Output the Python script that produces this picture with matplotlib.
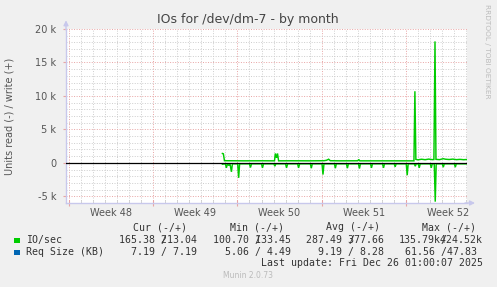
import matplotlib
matplotlib.use("Agg")
import matplotlib.pyplot as plt
from matplotlib.ticker import MultipleLocator, FixedLocator, NullFormatter
from matplotlib.transforms import blended_transform_factory

# ---------------- data ----------------
TITLE = "IOs for /dev/dm-7 - by month"
Y_LABEL = "Units read (-) / write (+)"
week_labels = ["Week 48", "Week 49", "Week 50", "Week 51", "Week 52"]
week_starts = [0, 7, 14, 21, 28]          # days since Mon 24 Nov 2025 00:00
y_ticks = [-5000, 0, 5000, 10000, 15000, 20000]
y_tick_labels = ["-5 k", "0", "5 k", "10 k", "15 k", "20 k"]

# write IO/s (drawn positive)
write_t = [12.75, 12.83, 12.92, 14.5, 16.0, 17.08, 17.15, 17.25, 17.33, 17.42,
           18.5, 20.0, 21.2, 21.4, 21.58, 21.72, 22.5, 24.0, 24.08, 24.17,
           26.0, 28.67, 28.75, 28.83, 29.0, 29.3, 29.6, 29.9, 30.2, 30.33,
           30.42, 30.5, 30.8, 31.1, 31.3, 31.6, 31.9, 32.2, 32.5, 32.8, 33.08]
write_v = [1400, 1350, 320, 300, 310, 300, 1400, 750, 1400, 300,
           310, 300, 320, 380, 540, 320, 300, 310, 500, 300,
           300, 300, 10700, 520, 450, 540, 470, 560, 480, 500,
           18150, 520, 480, 620, 540, 500, 560, 480, 520, 470, 500]

# read IO/s (drawn negative)
read_t = [12.75, 13.0, 13.08, 13.17, 13.29, 13.38, 13.5, 13.58, 14.02, 14.1,
          14.18, 15.0, 15.08, 15.17, 16.0, 16.08, 16.17, 17.03, 17.11, 17.19,
          18.0, 18.08, 18.17, 19.0, 19.08, 19.17, 20.06, 20.14, 20.22, 21.03,
          21.11, 21.19, 22.06, 22.14, 22.22, 23.06, 23.14, 23.22, 24.06, 24.14,
          24.22, 25.06, 25.14, 25.22, 26.06, 26.14, 26.22, 27.03, 27.11, 27.19,
          28.03, 28.11, 28.19, 28.7, 28.78, 28.86, 29.03, 29.11, 29.19, 30.03,
          30.11, 30.19, 30.36, 30.44, 30.52, 31.03, 31.11, 31.19, 32.03, 32.11,
          32.19, 33.08]
read_v = [200, 150, 750, 150, 400, 150, 1340, 150, 150, 2240,
          150, 150, 700, 150, 150, 750, 150, 150, 500, 150,
          150, 750, 150, 150, 750, 150, 150, 800, 150, 150,
          1750, 150, 150, 800, 150, 150, 800, 150, 150, 850,
          150, 150, 750, 150, 150, 750, 150, 150, 600, 150,
          150, 1850, 150, 150, 500, 150, 150, 750, 150, 150,
          750, 150, 150, 5800, 150, 150, 650, 150, 150, 650,
          150, 150]

legend_names = ["IO/sec", "Req Size (KB)"]
legend_colors = ["#00cc00", "#0066b3"]
col_headers = ["Cur (-/+)", "Min (-/+)", "Avg (-/+)", "Max (-/+)"]
io_read = ["165.38", "100.70", "287.49", "135.79k"]
io_write = ["213.04", "133.45", "377.66", "424.52k"]
req_vals = ["7.19 / 7.19", "5.06 / 4.49", "9.19 / 8.28", "61.56 /47.83"]
LAST_UPDATE = "Last update: Fri Dec 26 01:00:07 2025"
FOOTER = "Munin 2.0.73"
SIDE = "RRDTOOL / TOBI OETIKER"

# ---------------- layout ----------------
W, H = 497, 287
BG = "#f0f0f0"
fig = plt.figure(figsize=(W / 100, H / 100), dpi=100, facecolor=BG)

def fx(px):
    return px / W

def fy(py):
    return 1 - py / H

ax_l, ax_r, ax_t, ax_b = 66, 467, 29, 203
ax = fig.add_axes([fx(ax_l), fy(ax_b), (ax_r - ax_l) / W, (ax_b - ax_t) / H])
ax.set_facecolor("white")
ax.set_xlim(-0.25, 33.08)
ax.set_ylim(-6000, 20000)

GREEN = legend_colors[0]
ax.plot(write_t, write_v, color=GREEN, lw=1.05, zorder=3, solid_joinstyle="miter")
ax.plot(read_t, [-v for v in read_v], color=GREEN, lw=1.05, zorder=3, solid_joinstyle="miter")
ax.axhline(0, color="black", lw=0.9, zorder=5)

# grid
MINOR_C = "#cdcdcd"
MAJOR_C = "#e8a4a4"
ax.yaxis.set_major_locator(FixedLocator(y_ticks))
ax.yaxis.set_minor_locator(MultipleLocator(1000))
ax.xaxis.set_major_locator(FixedLocator(week_starts))
ax.xaxis.set_minor_locator(MultipleLocator(1))
ax.grid(True, which="minor", color=MINOR_C, ls=(0, (1, 1.6)), lw=0.7, zorder=0)
ax.grid(True, which="major", color=MAJOR_C, ls=(0, (1, 1.6)), lw=0.7, zorder=1)
ax.set_axisbelow(True)

ax.set_yticklabels(y_tick_labels)
ax.xaxis.set_major_formatter(NullFormatter())
ax.tick_params(axis="y", which="major", direction="out", length=2, color=MAJOR_C,
               labelsize=7, labelcolor="#555555", pad=5)
ax.tick_params(axis="y", which="minor", length=0)
ax.tick_params(axis="x", which="major", direction="inout", length=4, color=MAJOR_C)
ax.tick_params(axis="x", which="minor", direction="in", length=2, color=MINOR_C)

for s in ("top", "right"):
    ax.spines[s].set_visible(False)
AXC = "#c8c8ec"
for s in ("left", "bottom"):
    ax.spines[s].set_color(AXC)
    ax.spines[s].set_linewidth(1.0)

ax.annotate("", xy=(0, 1.05), xytext=(0, 0.995), xycoords="axes fraction",
            arrowprops=dict(arrowstyle="-|>", color=AXC, lw=1.0, mutation_scale=7,
                            shrinkA=0, shrinkB=0), annotation_clip=False)
ax.annotate("", xy=(1.02, 0), xytext=(0.995, 0), xycoords="axes fraction",
            arrowprops=dict(arrowstyle="-|>", color=AXC, lw=1.0, mutation_scale=7,
                            shrinkA=0, shrinkB=0), annotation_clip=False)

# week labels between major lines
wk_tr = blended_transform_factory(ax.transData, fig.transFigure)
for ws, lab in zip(week_starts, week_labels):
    ax.text(ws + 3.5, fy(212.5), lab, transform=wk_tr,
            ha="center", va="center", fontsize=7, color="#555555")

# title, y label, side text
fig.text(fx(248), fy(20), TITLE, ha="center", va="center", fontsize=9, color="#444444")
fig.text(fx(10), fy(116), Y_LABEL, ha="center", va="center", rotation=90,
         fontsize=7, color="#555555")
fig.text(fx(487), fy(4), SIDE, ha="center", va="top", rotation=270,
         fontsize=5.3, color="#bcbcbc")

# legend block
MONO = "DejaVu Sans Mono"
FS = 7.15
CW = 5.97
TXT = "#333333"
hdr_right = [187.3, 284.3, 380.0, 476.0]
row1_right = [196.7, 290.7, 384.0, 482.7]
row2_right = [196.7, 290.7, 384.0, 476.7]
Y_HDR, Y_R1, Y_R2, Y_LU = 227.3, 240.0, 251.7, 263.3

for xr, h in zip(hdr_right, col_headers):
    fig.text(fx(xr), fy(Y_HDR), h, ha="right", va="center", family=MONO, fontsize=FS, color=TXT)

for i, (name, col) in enumerate(zip(legend_names, legend_colors)):
    yy = [Y_R1, Y_R2][i]
    fig.patches.append(plt.Rectangle((fx(14), fy(yy + 3.3)), 5.5 / W, 5.5 / H,
                                     transform=fig.transFigure, color=col, lw=0))
    fig.text(fx(26.5), fy(yy), name, ha="left", va="center", family=MONO, fontsize=FS, color=TXT)

for xr, r, w in zip(row1_right, io_read, io_write):
    s = r.ljust(7) + w
    fig.text(fx(xr), fy(Y_R1), s, ha="right", va="center", family=MONO, fontsize=FS, color=TXT)
    left = xr - len(s) * CW
    fig.text(fx(left + 7.5 * CW), fy(Y_R1), "/", ha="center", va="center",
             family=MONO, fontsize=FS, color=TXT)

for xr, s in zip(row2_right, req_vals):
    fig.text(fx(xr), fy(Y_R2), s, ha="right", va="center", family=MONO, fontsize=FS, color=TXT)

fig.text(fx(482.7), fy(Y_LU), LAST_UPDATE, ha="right", va="center", family=MONO,
         fontsize=FS, color=TXT)
fig.text(fx(248), fy(276), FOOTER, ha="center", va="center", fontsize=5.5, color="#bbbbbb")

fig.savefig("out.png", dpi=100, facecolor=BG)
